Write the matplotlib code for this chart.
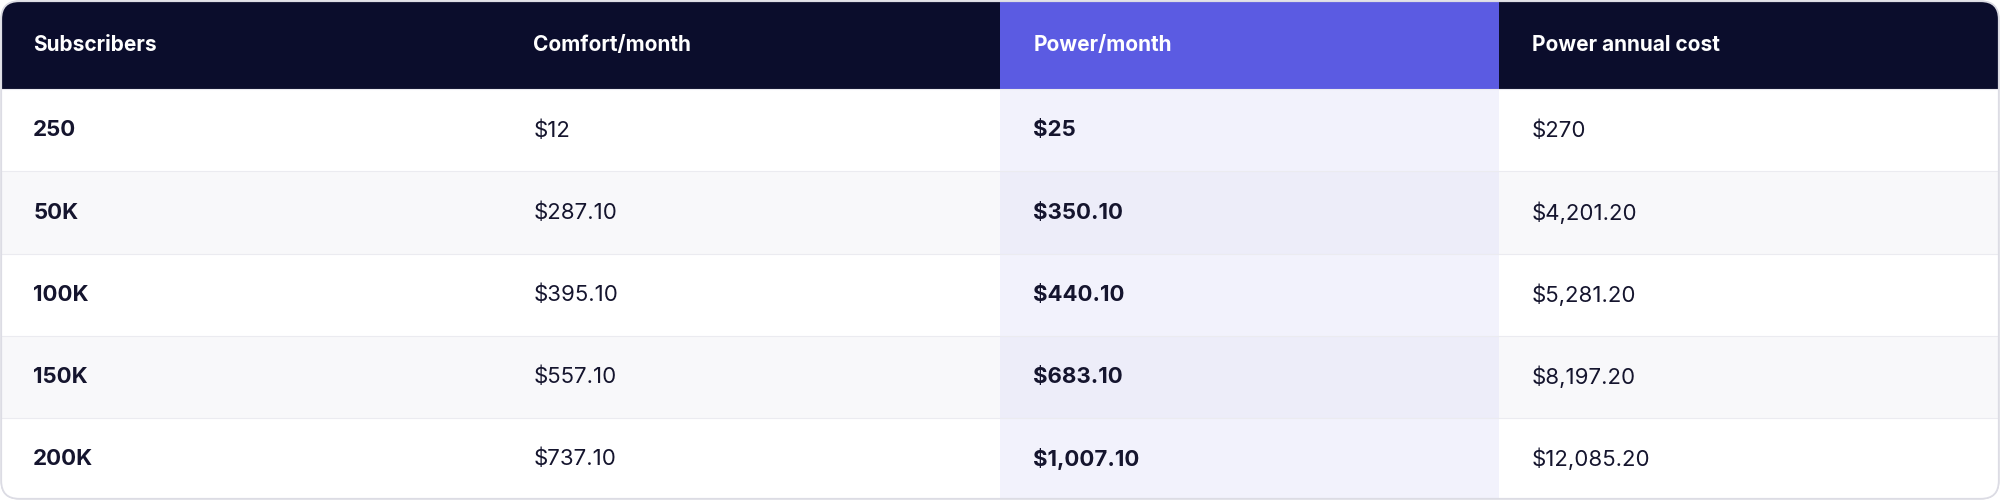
import matplotlib
matplotlib.use("Agg")
import matplotlib.pyplot as plt
from matplotlib.patches import FancyBboxPatch, Rectangle

headers = ["Subscribers", "Comfort/month", "Power/month", "Power annual cost"]
subscribers = ["250", "50K", "100K", "150K", "200K"]
comfort = ["$12", "$287.10", "$395.10", "$557.10", "$737.10"]
power = ["$25", "$350.10", "$440.10", "$683.10", "$1,007.10"]
annual = ["$270", "$4,201.20", "$5,281.20", "$8,197.20", "$12,085.20"]

plt.rcParams['font.family'] = ['Inter', 'DejaVu Sans']
fig = plt.figure(figsize=(20, 5), dpi=100)
ax = fig.add_axes([0, 0, 1, 1])
W, H = 1568, 392
ax.set_xlim(0, W); ax.set_ylim(H, 0); ax.axis('off')

outer = FancyBboxPatch((1, 1), W - 2, H - 2, boxstyle="round,pad=0,rounding_size=14",
                       fc='white', ec='#dcdce4', lw=1.2, zorder=0)
ax.add_patch(outer)

colx = [0, 392, 784, 1175, 1568]
hh = 70
rh = (H - hh) / 5
cols = [subscribers, comfort, power, annual]
clip = outer

def rect(x, y, w, h, c, z=1):
    r = Rectangle((x, y), w, h, fc=c, ec='none', zorder=z)
    ax.add_patch(r); r.set_clip_path(clip)

rect(0, 0, W, hh, '#0b0d2c')
rect(colx[2], 0, colx[3] - colx[2], hh, '#5b5be2', 2)
for i in range(5):
    y = hh + i * rh
    alt = i % 2 == 1
    rect(0, y, W, rh, '#f8f8fa' if alt else 'white')
    rect(colx[2], y, colx[3] - colx[2], rh, '#ededf9' if alt else '#f2f2fc', 2)
    ax.plot([0, W], [y, y], color='#ebebf0', lw=0.8, zorder=3)

for j, h in enumerate(headers):
    ax.text(colx[j] + 26, hh / 2, h, color='white', fontsize=15, fontweight='bold',
            va='center', ha='left', zorder=5)
for j, col in enumerate(cols):
    bold = j in (0, 2)
    for i, v in enumerate(col):
        ax.text(colx[j] + 26, hh + (i + 0.5) * rh, v, color='#15152e', fontsize=16,
                fontweight='bold' if bold else 'normal', va='center', ha='left', zorder=5)

ax.add_patch(FancyBboxPatch((1, 1), W - 2, H - 2, boxstyle="round,pad=0,rounding_size=14",
                            fc='none', ec='#dcdce4', lw=1.2, zorder=6))
fig.savefig("out.png", dpi=100)
